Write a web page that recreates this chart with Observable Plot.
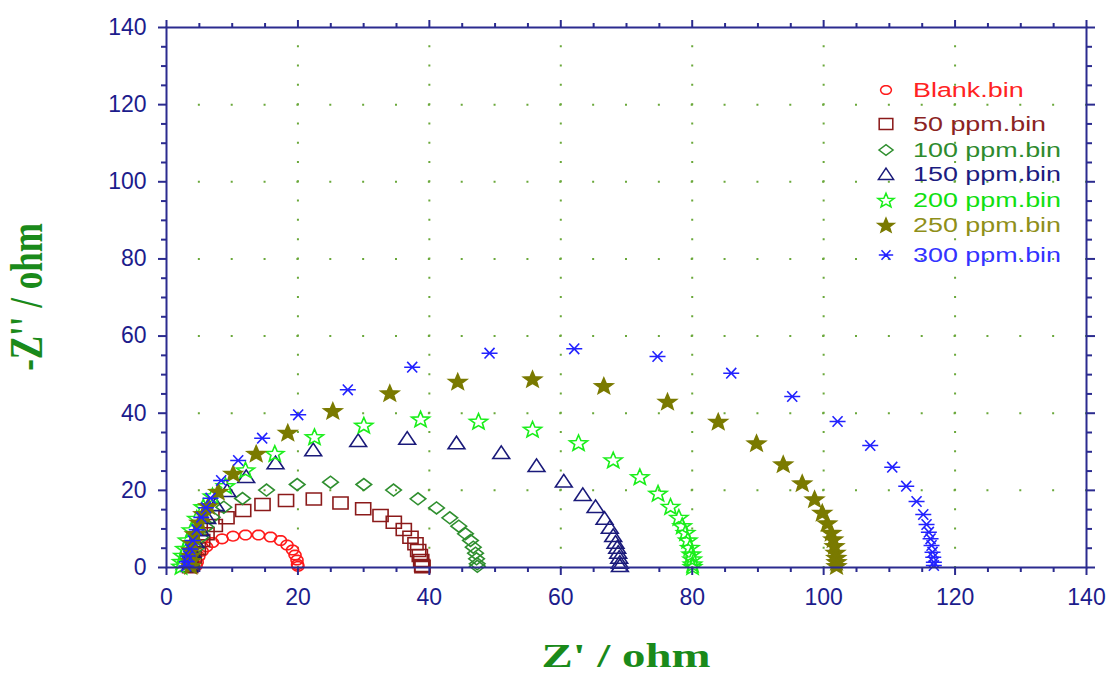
<!DOCTYPE html>
<html><head><meta charset="utf-8">
<script src="https://cdn.jsdelivr.net/npm/d3@7"></script>
<script src="https://cdn.jsdelivr.net/npm/@observablehq/plot@0.6"></script>
<style>
html,body{margin:0;padding:0;background:#fff;}
#wrap{position:relative;width:1109px;height:675px;overflow:hidden;}
</style></head><body><div id="wrap"></div>
<script>
// ---- data ----
const seriesNames = ["Blank.bin","50 ppm.bin","100 ppm.bin","150 ppm.bin","200 ppm.bin","250 ppm.bin","300 ppm.bin"];
const seriesColors = ["#ff1a1a","#8b1a1a","#2f8f2f","#1a1a7a","#1aee1a","#7a7a00","#2222ff"];
const legendColors = ["#ff2222","#8b2323","#2e8b2e","#1c1c80","#11e011","#8f8f1a","#3333ff"];

const blankX = [4.5,4.67,4.92,5.43,6.09,7.0,8.45,10.12,12.02,14.0,15.83,17.35,18.34,19.18,19.56,19.86,19.94,20.0];
const blankY = [0.4,1.37,2.85,4.23,5.37,6.48,7.44,8.12,8.43,8.43,7.91,7.0,5.83,4.54,3.24,1.94,0.78,0.3];

const ppm50X = [3.6,3.7,4.15,4.76,5.43,6.09,7.35,9.13,11.67,14.61,18.19,22.42,26.48,29.93,32.57,34.59,36.11,37.13,37.89,38.3,38.55,38.76,38.91,38.95];
const ppm50Y = [0.2,1.2,2.67,4.85,7.0,8.74,10.89,12.89,14.78,16.33,17.37,17.76,16.72,15.22,13.48,11.74,9.85,7.86,6.14,4.41,3.11,1.81,0.52,0.2];

const ppm100X = [3.8,4.0,4.5,5.2,6.0,6.95,8.72,11.57,15.22,19.89,24.96,30.03,34.55,38.27,41.09,43.11,44.48,45.5,46.26,46.68,47.03,47.18,47.28,47.3];
const ppm100Y = [0.5,2.5,5.0,7.8,10.5,13.04,15.63,17.89,20.09,21.52,22.12,21.52,20.09,17.81,15.43,12.89,10.71,8.74,7.0,5.26,3.71,2.26,0.96,0.3];

const ppm150X = [3.5,3.6,3.9,4.4,5.2,6.2,7.5,9.24,12.13,16.59,22.33,29.17,36.63,44.13,50.94,56.31,60.46,63.35,65.29,66.66,67.46,67.98,68.33,68.59,68.74,68.89,68.99,69.0];
const ppm150Y = [0.5,2.0,4.2,6.8,9.8,13.0,16.3,19.96,23.59,27.15,30.52,32.93,33.52,32.33,29.82,26.45,22.43,18.93,15.82,12.78,10.45,8.3,6.56,5.26,3.97,2.67,1.37,0.5];

const ppm200X = [2.2,2.3,2.5,2.8,3.2,3.8,4.6,5.6,7.0,8.98,12.02,16.48,22.52,30.03,38.66,47.48,55.7,62.7,67.98,72.03,74.8,76.7,77.97,78.48,78.99,79.33,79.64,79.85,80.0,80.05,80.05];
const ppm200Y = [0.4,1.6,3.2,5.0,7.2,9.8,12.8,15.8,18.6,21.26,25.33,29.63,33.96,36.95,38.55,37.98,35.91,32.41,27.95,23.59,19.3,15.9,13.05,10.89,9.15,7.18,5.26,3.55,2.26,0.96,0.3];

const ppm250X = [3.7,3.7,3.7,3.75,3.9,4.3,5.0,5.6,6.35,7.87,10.15,13.65,18.46,25.31,33.98,44.32,55.7,66.55,76.24,83.96,89.79,93.85,96.74,98.62,99.79,100.55,101.16,101.46,101.66,101.81,101.92,101.96,101.96];
const ppm250Y = [0.5,1.8,3.2,4.6,6.5,8.8,11.8,14.0,16.07,19.78,24.45,29.63,35.08,40.7,45.29,48.3,48.92,47.19,43.12,37.93,32.33,26.89,21.96,17.81,14.34,11.59,9.15,7.44,5.7,3.97,2.67,1.56,0.52];

const ppm300X = [3.0,3.1,3.3,3.6,4.0,4.6,5.3,6.0,6.7,8.32,10.91,14.56,20.04,27.59,37.39,49.16,62.05,74.72,85.94,95.22,102.12,107.09,110.44,112.57,114.14,115.16,115.66,116.01,116.27,116.42,116.57,116.68,116.77,116.77];
const ppm300Y = [0.4,1.5,3.0,4.8,7.0,9.8,13.0,15.5,17.97,22.56,27.74,33.52,39.59,46.07,51.93,55.56,56.7,54.71,50.38,44.34,37.85,31.63,26.0,21.08,17.11,13.74,11.15,9.15,7.44,5.7,3.97,2.67,1.37,0.52];

const xTicks = [0,20,40,60,80,100,120,140];
const yTicks = [0,20,40,60,80,100,120,140];
const gridTicks = [20,40,60,80,100,120];
const minorTicks = [5,10,15,25,30,35,45,50,55,65,70,75,85,90,95,105,110,115,125,130,135];

const xTitle = "Z' / ohm";
const yTitle = "-Z'' / ohm";

// ---- symbols (horizontally stretched, like the reference) ----
const K = 1.2;
function polySym(pts){
  return {draw(c){ c.moveTo(K*pts[0][0],K*pts[0][1]); for(let i=1;i<pts.length;i++) c.lineTo(K*pts[i][0],K*pts[i][1]); c.closePath(); }};
}
const symEllipse = polySym(d3.range(24).map(i => [5*Math.cos(i*Math.PI/12), 4*Math.sin(i*Math.PI/12)]));
const symSquare = polySym([[-6.3,-5],[6.3,-5],[6.3,5],[-6.3,5]]);
const symDiamond = polySym([[-6.5,0],[0,-5],[6.5,0],[0,5]]);
const symTriangle = polySym([[0,-5.5],[7,5],[-7,5]]);
const symStar = polySym(d3.range(10).map(i => { const a = -Math.PI/2 + i*Math.PI/5; const r = i%2 ? 3.0 : 7; return [1.12*r*Math.cos(a), r*Math.sin(a)+0.8]; }));
const symAsterisk = {draw(c){ c.moveTo(-8,0); c.lineTo(8,0); c.moveTo(-5,-5.3); c.lineTo(5,5.3); c.moveTo(-5,5.3); c.lineTo(5,-5.3); }};
const symbols = [symEllipse, symSquare, symDiamond, symTriangle, symStar, symStar, symAsterisk];
const fills = ["none","none","none","none","none","fill","none"];

const seriesX = [blankX, ppm50X, ppm100X, ppm150X, ppm200X, ppm250X, ppm300X];
const seriesY = [blankY, ppm50Y, ppm100Y, ppm150Y, ppm200Y, ppm250Y, ppm300Y];
const tables = seriesX.map((xs,i) => xs.map((x,j) => ({series: seriesNames[i], zr: x, zi: seriesY[i][j]})));

const axisColor = "#2b2b8f";
const labelColor = "#1c1c8c";
const gridColor = "#6aa83a";

const dotMarks = tables.map((t,i) => Plot.dot(t, {
  x: "zr", y: "zi", r: 5, symbol: symbols[i],
  stroke: seriesColors[i], strokeWidth: 1.6,
  fill: fills[i] === "fill" ? seriesColors[i] : "none"
}));

const chart = Plot.plot({
  width: 1109, height: 675,
  marginLeft: 166, marginRight: 23, marginTop: 27, marginBottom: 108,
  x: {domain: [0,140]},
  y: {domain: [0,140]},
  style: {fontFamily: "'Liberation Sans', Arial, sans-serif", background: "white", overflow: "visible"},
  marks: [
    Plot.gridX(gridTicks, {stroke: gridColor, strokeOpacity: 1, strokeWidth: 2, strokeDasharray: "2 17.286", strokeDashoffset: 1}),
    Plot.gridY(gridTicks, {stroke: gridColor, strokeOpacity: 1, strokeWidth: 2, strokeDasharray: "2 30.857", strokeDashoffset: 1}),
    ...dotMarks,
    Plot.axisX(xTicks, {anchor: "bottom", tickSize: 8, tickPadding: 13, stroke: axisColor, strokeWidth: 2, fill: labelColor, fontSize: 23, label: null, tickFormat: d => String(d)}),
    Plot.axisX(minorTicks, {anchor: "bottom", tickSize: 5, stroke: axisColor, strokeWidth: 2, label: null, tickFormat: () => ""}),
    Plot.axisX(xTicks, {anchor: "top", tickSize: 8, stroke: axisColor, strokeWidth: 2, label: null, tickFormat: () => ""}),
    Plot.axisX(minorTicks, {anchor: "top", tickSize: 5, stroke: axisColor, strokeWidth: 2, label: null, tickFormat: () => ""}),
    Plot.axisY(yTicks, {anchor: "left", tickSize: 8, tickPadding: 12, stroke: axisColor, strokeWidth: 2, fill: labelColor, fontSize: 23, label: null, tickFormat: d => String(d)}),
    Plot.axisY(minorTicks, {anchor: "left", tickSize: 5, stroke: axisColor, strokeWidth: 2, label: null, tickFormat: () => ""}),
    Plot.axisY(yTicks, {anchor: "right", tickSize: 8, stroke: axisColor, strokeWidth: 2, label: null, tickFormat: () => ""}),
    Plot.axisY(minorTicks, {anchor: "right", tickSize: 5, stroke: axisColor, strokeWidth: 2, label: null, tickFormat: () => ""}),
    Plot.frame({stroke: axisColor, strokeWidth: 2})
  ]
});

document.getElementById("wrap").appendChild(chart);
const svg = d3.select(chart);

// axis titles
svg.append("text")
  .attr("transform", "translate(626,667) scale(1.42,1)")
  .attr("text-anchor", "middle")
  .attr("font-family", "'Liberation Serif', 'Times New Roman', serif")
  .attr("font-weight", "bold").attr("font-size", 33)
  .attr("fill", "#1a8a1a").text(xTitle);
svg.append("text")
  .attr("transform", "translate(42,297) scale(1.3,1) rotate(-90)")
  .attr("text-anchor", "middle")
  .attr("font-family", "'Liberation Serif', 'Times New Roman', serif")
  .attr("font-weight", "bold").attr("font-size", 35)
  .attr("fill", "#1a8a1a").text(yTitle);

// legend
const legendRowY = [90, 124, 150, 174, 200, 225, 255];
const lg = svg.append("g");
seriesNames.forEach((name, i) => {
  const row = lg.append("g").attr("transform", `translate(0,${legendRowY[i]})`);
  row.append("path")
    .attr("transform", "translate(886,0) scale(0.9)")
    .attr("d", d3.symbol(symbols[i], 30)())
    .attr("stroke", seriesColors[i]).attr("stroke-width", 1.7)
    .attr("fill", fills[i] === "fill" ? seriesColors[i] : "none");
  row.append("text")
    .attr("transform", "translate(913,0) scale(1.38,1)")
    .attr("text-anchor", "start")
    .attr("dy", "0.36em")
    .attr("font-family", "'Liberation Sans', Arial, sans-serif")
    .attr("font-size", 19.5)
    .attr("fill", legendColors[i]).text(name);
});
</script></body></html>
